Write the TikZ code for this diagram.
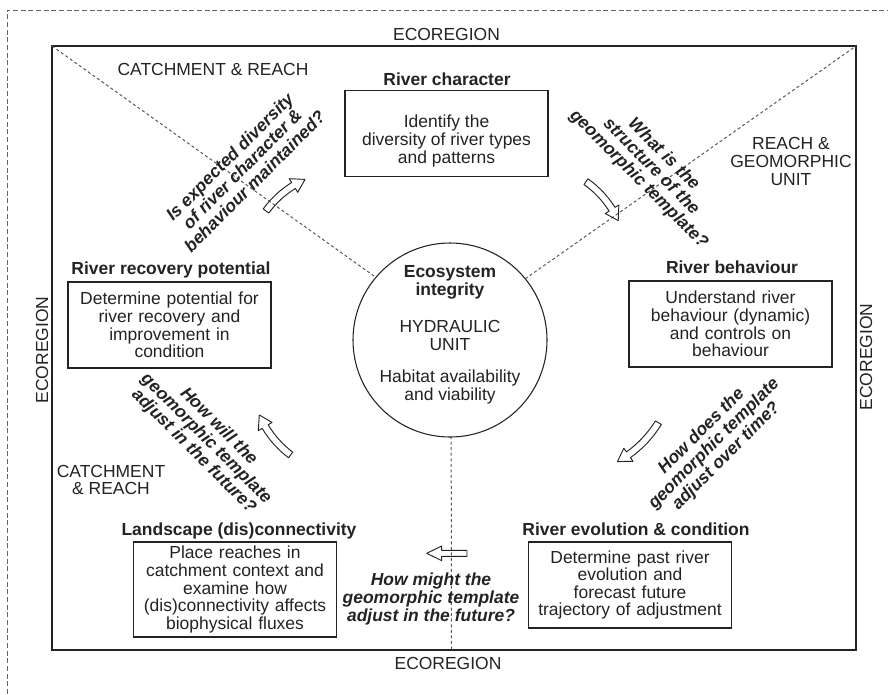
\documentclass[tikz,border=0pt]{standalone}
\usepackage{fontspec}
\setmainfont{Liberation Sans}
\usetikzlibrary{calc}

\definecolor{ink}{RGB}{35,35,35}

\tikzset{every picture/.style={line width=0.75pt}}
\tikzset{
  stage/.style={draw=ink, line width=0.9pt, align=center, text width=146pt, minimum width=152.25pt, minimum height=64.5pt, inner sep=0.75pt, text=ink, font=\fontsize{13.1}{13.2}\selectfont},
  stagetitle/.style={anchor=base, inner sep=0.75pt, text=ink, font=\bfseries\fontsize{13.1}{13.2}\selectfont},
  scalelabel/.style={inner sep=0.75pt, align=center, text=ink, font=\fontsize{13.1}{13.2}\selectfont},
  question/.style={inner sep=0.75pt, align=center, text=ink, font=\bfseries\itshape\fontsize{13.1}{13.2}\selectfont},
  zone/.style={draw=ink!75, dash pattern=on 2.25pt off 1.9pt, line width=0.75pt},
  hollow/.style={draw=ink, line width=0.7pt, line join=round},
}

\begin{document}
\begin{tikzpicture}[x=0.75pt,y=0.75pt,yscale=-1,xscale=1]
\useasboundingbox (0,0) rectangle (888,694);

%Ecoregion boundary (runs off the page)
\draw [ink!70, dash pattern=on 3.75pt off 2pt] (7,694) -- (7,10) -- (888,10) ;
%Shape: Rectangle
\draw [ink, line width=1pt] (52,46) rectangle (856,650) ;

\coordinate (frametl) at (52,46) ;
\coordinate (frametr) at (856,46) ;
\coordinate (framebot) at (451.5,650) ;
\coordinate (hub) at (451,331) ;

%Dashed zone lines
\draw [zone] (frametl) -- (hub) -- (frametr) ;
\draw [zone] (hub) -- (framebot) ;

%Shape: Circle
\node [draw=ink, fill=white, circle, minimum size=145.5pt, inner sep=0pt, line width=0.8pt] (integrity) at (450,340) {};
\node [scalelabel] (integritytext) at (450,334.6) {\textbf{Ecosystem}\\\textbf{integrity}\\[15pt]HYDRAULIC\\UNIT\\[10.9pt]Habitat availability\\and viability};

% Stage boxes
\node [stage] (character) at (446.5,133.5) {};
\node [scalelabel] (charactertext) at (446.5,141) {Identify the\\diversity of river types\\and patterns};
\node [stage] (behaviour) at (730.5,324) {Understand river\\behaviour (dynamic)\\and controls on\\behaviour};
\node [stage] (evolution) at (630,585) {Determine past river\\evolution and\\forecast future\\trajectory of adjustment};
\node [stage, minimum height=71.25pt] (landscape) at (235,589.5) {Place reaches in\\catchment context and\\examine how\\(dis)connectivity affects\\biophysical fluxes};
\node [stage] (recovery) at (169.5,325) {Determine potential for\\river recovery and\\improvement in\\condition};

% Stage titles
\node [stagetitle] (charactertitle) at (447,85) {River character};
\node [stagetitle] (behaviourtitle) at (732,273) {River behaviour};
\node [stagetitle] (evolutiontitle) at (636,535.5) {River evolution \& condition};
\node [stagetitle] (landscapetitle) at (239,535) {Landscape (dis)connectivity};
\node [stagetitle] (recoverytitle) at (171,274) {River recovery potential};

% Scale labels
\node [scalelabel] (ecotop) at (446.5,34) {ECOREGION};
\node [scalelabel] (ecobottom) at (448,663) {ECOREGION};
\node [scalelabel, rotate=90] (ecoleft) at (42,350) {ECOREGION};
\node [scalelabel, rotate=90] (ecoright) at (866,357) {ECOREGION};
\node [scalelabel] (catchtop) at (213,69) {CATCHMENT \& REACH};
\node [scalelabel] (reachgeo) at (791,161.5) {REACH \&\\GEOMORPHIC\\UNIT};
\node [scalelabel] (catchbottom) at (111,480) {CATCHMENT\\\& REACH};

% Questions
\node [question, rotate=45] (qmaintained) at (242,169) {Is expected diversity\\of river character \&\\behaviour maintained?};
\node [question, rotate=-45] (qstructure) at (651,167) {What is the\\structure of the\\geomorphic template?};
\node [question, rotate=-45] (qfuture) at (206,439) {How will the\\geomorphic template\\adjust in the future?};
\node [question, rotate=45] (qtime) at (714,444) {How does the\\geomorphic template\\adjust over time?};
\node [question] (qmight) at (431,599) {How might the\\geomorphic template\\adjust in the future?};

%Curved Arrows
\draw [hollow, shift={(344.5,268)}] (216:100.5) arc[start angle=216, end angle=238.3, radius=100.5] -- (238.3:105) -- (246:97) -- (238.3:89) -- (238.3:93.5) arc[start angle=238.3, end angle=216, radius=93.5] -- cycle ;
\draw [hollow, shift={(529.4,261.3)}] (-54.6:101.2) arc[start angle=-54.6, end angle=-32.2, radius=101.2] -- (-32.2:105.7) -- (-24.6:97.7) -- (-32.2:89.7) -- (-32.2:94.2) arc[start angle=-32.2, end angle=-54.6, radius=94.2] -- cycle ;
\draw [hollow, shift={(349.6,376.4)}] (126.9:101.7) arc[start angle=126.9, end angle=149.3, radius=101.7] -- (149.3:106.2) -- (156.9:98.2) -- (149.3:90.2) -- (149.3:94.7) arc[start angle=149.3, end angle=126.9, radius=94.7] -- cycle ;
\draw [hollow, shift={(565.3,365.9)}] (31.4:112.5) arc[start angle=31.4, end angle=54.6, radius=112.5] -- (54.6:117) -- (61.4:109) -- (54.6:101) -- (54.6:105.5) arc[start angle=54.6, end angle=31.4, radius=105.5] -- cycle ;
%Left Arrow
\draw [hollow] (467,550.3) -- (441.7,550.3) -- (441.7,546) -- (426.7,553.3) -- (441.7,560.6) -- (441.7,556.3) -- (467,556.3) -- cycle ;

\end{tikzpicture}
\end{document}
